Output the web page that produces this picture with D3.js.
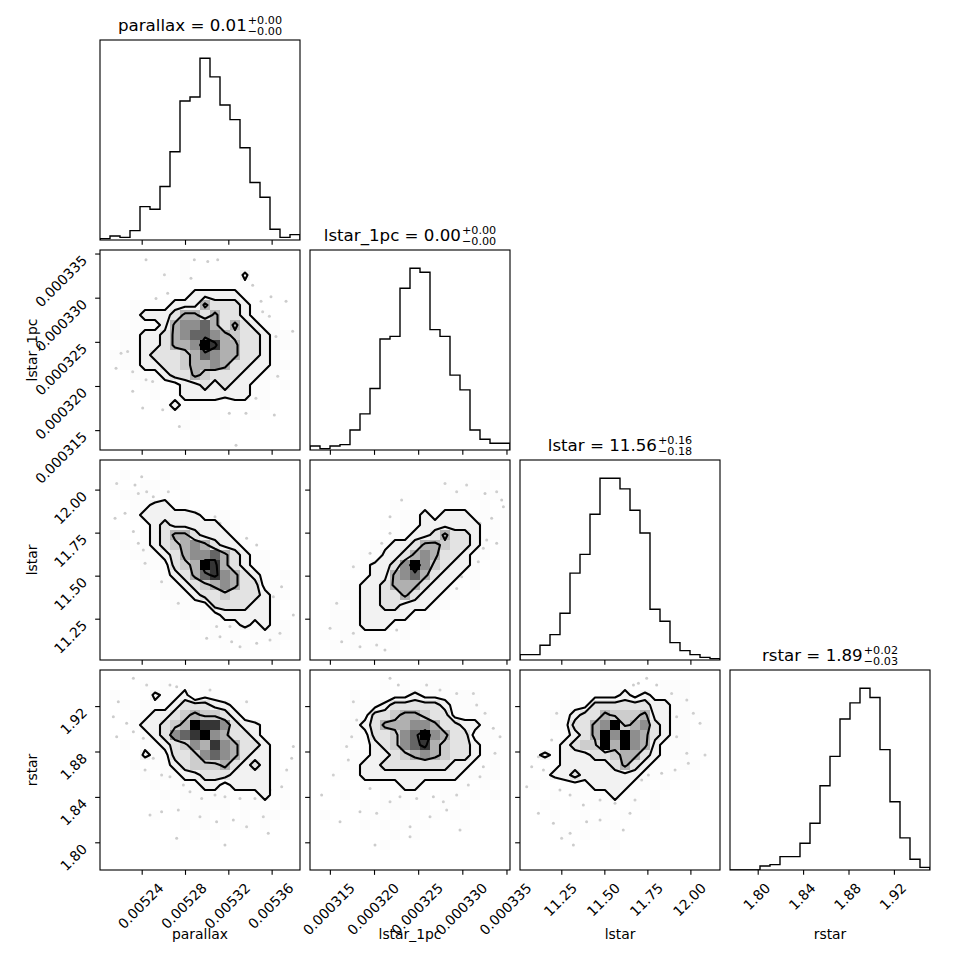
<!DOCTYPE html>
<html>
<head>
<meta charset="utf-8">
<script src="https://cdn.jsdelivr.net/npm/d3@7"></script>
<style>
body { margin: 0; background: #fff; }
svg { display: block; }
text { font-family: "DejaVu Sans", sans-serif; fill: #000; }
</style>
</head>
<body>
<svg id="chart" width="970" height="970"></svg>
<script>
// parameter names, ranges and ticks
const names = ["parallax", "lstar_1pc", "lstar", "rstar"];
const rangeParallax = [0.0052015, 0.0053862];
const rangeLstar1pc = [0.00031275, 0.0003354];
const rangeLstar = [11.010, 12.172];
const rangeRstar = [1.7756, 1.9518];

const ticksParallax = [0.00524, 0.00528, 0.00532, 0.00536];
const ticksLstar1pc = [0.000315, 0.000320, 0.000325, 0.000330, 0.000335];
const ticksLstar = [11.25, 11.50, 11.75, 12.00];
const ticksRstar = [1.80, 1.84, 1.88, 1.92];
const tickLabelsParallax = ["0.00524", "0.00528", "0.00532", "0.00536"];
const tickLabelsLstar1pc = ["0.000315", "0.000320", "0.000325", "0.000330", "0.000335"];
const tickLabelsLstar = ["11.25", "11.50", "11.75", "12.00"];
const tickLabelsRstar = ["1.80", "1.84", "1.88", "1.92"];

// titles: median and errors
const titleValues = ["0.01", "0.00", "11.56", "1.89"];
const titlePlus = ["+0.00", "+0.00", "+0.16", "+0.02"];
const titleMinus = ["\u22120.00", "\u22120.00", "\u22120.18", "\u22120.03"];

// 1d histogram counts (20 bins over each range)
const histParallax = [1, 3, 2, 7, 25, 23, 40, 66, 104, 107, 136, 122, 101, 90, 69, 43, 32, 8, 2, 4];
const histLstar1pc = [3, 1, 3, 4, 15, 27, 46, 83, 85, 121, 136, 133, 90, 85, 56, 45, 15, 8, 5, 5];
const histLstar = [4, 4, 11, 19, 35, 65, 79, 109, 136, 136, 128, 112, 95, 38, 29, 13, 7, 4, 2, 1];
const histRstar = [0, 0, 0, 3, 4, 10, 10, 20, 35, 63, 85, 113, 125, 136, 129, 90, 51, 24, 8, 2];

// 2d histograms, 20x20, top row = highest y value
const gridLstar1pcParallax = [
  "00000000000000000000", "00000000100000000000", "00000010100000200000", "00000000011111100000",
  "00000001122222100000", "00011112225333210000", "00112223553533211000", "01011125667535321100",
  "01112235677654332110", "00112235569855332111", "01112333457655332101", "00112233455653322110",
  "00011123354333221100", "00001111223232211010", "00000101222222211000", "00000012111101101000",
  "00000001010100010000", "00000000100010000000", "00000000010000000000", "00000000000000000000"
];
const gridLstarParallax = [
  "00000000000000000000", "00100010000000000000", "01001101000000000000", "00111010100000000000",
  "00011221100000000000", "00012222221110000000", "00001232222211000000", "01001235532221000000",
  "00101234565322100000", "00011123566753211000", "00001113459853211000", "00001012357865321010",
  "00000111234565331100", "00000011123343332110", "00000001111333322101", "00000000101122222100",
  "00000000010111212110", "00000000000101011110", "00000000000010100101", "00000000000000010000"
];
const gridLstarLstar1pc = [
  "00000000000000000000", "00000000000000000010", "00000000000001010100", "00000000010010101010",
  "00000000100101110100", "00000000011212221101", "00000001011222222110", "00000000112235332110",
  "00000011223554332101", "00000102235653321100", "00001122369643221010", "00000122567532211000",
  "00011223555322101000", "00011223353221100000", "00101223322211000000", "00111222221110000000",
  "00111222110100000000", "01011111010000000000", "00101010100000000000", "00010100000000000000"
];
const gridRstarParallax = [
  "00000000000000000000", "00001010101000000000", "01000211201100000000", "00101112333221100000",
  "00011223454432100000", "00012234598863221000", "00001236789653321000", "00101123465865332100",
  "00002113346765322100", "00010112344453232101", "00001011223332222110", "00000101112212222100",
  "00000010111111112110", "00000001011110111010", "00000100111010101100", "00000000101010101000",
  "00000000010100000000", "00000001000000000000", "00000000000000000000", "00000000000000000000"
];
const gridRstarLstar1pc = [
  "00000000000000000000", "00000001010111000000", "00001010112111111000", "00001112333332111000",
  "00001133455433111100", "00011235556653322101", "00011133467965331110", "00010123467854332101",
  "00001122345654332110", "00011223333333221010", "00101222222222211110", "00000111122111110101",
  "00010001011101101010", "00000101110101010000", "01000010101010100000", "00000101010100010000",
  "00000000101000000000", "00000001000000000000", "00000000000000000000", "00000000000000000000"
];
const gridRstarLstar = [
  "00000000000000000000", "00000000111000111000", "00000101112121111000", "00001113333332211000",
  "00011233544452211100", "00011335694563211010", "00001235969653211000", "00012344959652111000",
  "01212223345532111010", "00012222235321101100", "00122322222211010000", "01001112222110100100",
  "00010111121101000000", "00100101110101000000", "00010010101010000000", "00000101010000000000",
  "00001010100000000000", "00000000010000000000", "00000000000000000000", "00000000000000000000"
];

// contour levels for each 2d panel (grid units)
const levelsLstar1pcParallax = [1.5, 2.5, 4.5, 7.5];
const levelsLstarParallax = [1.5, 2.5, 4.5, 7.5];
const levelsLstarLstar1pc = [1.5, 2.5, 4.5, 7.5];
const levelsRstarParallax = [1.5, 2.5, 4.5, 8.8];
const levelsRstarLstar1pc = [1.5, 2.5, 4.5, 7.5];
const levelsRstarLstar = [1.5, 2.5, 4.5, 8.8];

// samples lying outside the outer contour, [x, y]
const ptsLstar1pcParallax = [
  [0.005244, 0.0003343], [0.005301, 0.0003341], [0.005261, 0.0003326], [0.0052855, 0.0003322],
  [0.0053425, 0.0003314], [0.0053594, 0.0003301], [0.0053733, 0.0003296], [0.0053517, 0.0003284],
  [0.0053579, 0.0003279], [0.0053794, 0.0003262], [0.0052209, 0.0003237], [0.005227, 0.0003239],
  [0.0052163, 0.000322], [0.0052317, 0.0003216], [0.005244, 0.0003207], [0.0052409, 0.0003175],
  [0.0052594, 0.0003173], [0.0052748, 0.0003154], [0.0053271, 0.0003133], [0.0053209, 0.0003169],
  [0.0053455, 0.0003186], [0.0053625, 0.0003167], [0.0053656, 0.0003211], [0.0052886, 0.0003343],
  [0.0053102, 0.0003343], [0.0053502, 0.0003296], [0.005364, 0.0003256], [0.0052501, 0.0003205],
  [0.0052317, 0.0003194], [0.0053363, 0.0003169], [0.005264, 0.0003305], [0.0052532, 0.0003299]
];
const ptsLstarParallax = [
  [0.0052169, 12.036], [0.0052338, 12.027], [0.00524, 12.075], [0.0052446, 11.988], [0.0052646, 11.988],
  [0.0052154, 11.833], [0.0052246, 11.862], [0.0052323, 11.756], [0.0052369, 11.688], [0.0052431, 11.572],
  [0.0052584, 11.465], [0.0052738, 11.339], [0.0053077, 11.843], [0.0053123, 11.804], [0.0053369, 11.717],
  [0.0053462, 11.678], [0.0053692, 11.436], [0.0053616, 11.378], [0.00538, 11.271], [0.0053677, 11.165],
  [0.0053462, 11.107], [0.0053308, 11.087], [0.0053123, 11.145], [0.0053, 11.136], [0.0053215, 11.204],
  [0.0052369, 11.978], [0.0052507, 11.959], [0.0052415, 11.649], [0.0053231, 11.116], [0.0053585, 11.126],
  [0.0053092, 11.204]
];
const ptsLstarLstar1pc = [
  [0.00032804, 12.036], [0.00033049, 12.027], [0.00033257, 11.978], [0.00033446, 11.94], [0.00033332, 11.833],
  [0.00033276, 11.707], [0.00033389, 11.688], [0.00033181, 11.581], [0.00032993, 11.494], [0.00032936, 11.426],
  [0.00032313, 11.94], [0.00032181, 11.843], [0.00032181, 11.746], [0.00031955, 11.63], [0.00031766, 11.552],
  [0.00031577, 11.339], [0.00031502, 11.194], [0.00031766, 11.165], [0.00031634, 11.116], [0.00031841, 11.087],
  [0.0003203, 11.097], [0.00032257, 11.184], [0.00032124, 11.068], [0.00032936, 11.988], [0.00033389, 11.988],
  [0.00033465, 11.901], [0.000332, 11.804], [0.00033238, 11.659], [0.00032087, 11.688]
];
const ptsRstarParallax = [
  [0.0052323, 1.9445], [0.0052661, 1.9386], [0.0053031, 1.9342], [0.0052184, 1.9239], [0.0052138, 1.9107],
  [0.0052261, 1.9048], [0.0052169, 1.8931], [0.0052507, 1.874], [0.0052431, 1.8637], [0.0052661, 1.8578],
  [0.0052846, 1.8446], [0.0053077, 1.8417], [0.0053308, 1.8387], [0.0053585, 1.8461], [0.0053693, 1.849],
  [0.0053739, 1.8637], [0.00538, 1.8843], [0.0053369, 1.9239], [0.0052477, 1.824], [0.0052738, 1.8284],
  [0.0052938, 1.8226], [0.0053092, 1.8182], [0.0053369, 1.8138], [0.0053523, 1.8226], [0.0053569, 1.8079],
  [0.0052723, 1.8035], [0.0053169, 1.7976], [0.0052446, 1.9386], [0.0052723, 1.9371], [0.0052323, 1.8975],
  [0.0052415, 1.8916], [0.0052584, 1.8593], [0.0052785, 1.8505], [0.0052954, 1.8387], [0.0053169, 1.8402],
  [0.0053446, 1.8387], [0.0053785, 1.874], [0.0052584, 1.827], [0.0053246, 1.8196]
];
const ptsRstarLstar1pc = [
  [0.00032181, 1.9445], [0.00032596, 1.9386], [0.00032936, 1.9312], [0.00033125, 1.9312], [0.00031766, 1.9239],
  [0.00031804, 1.9077], [0.00031747, 1.8931], [0.00031709, 1.8725], [0.00031539, 1.8593], [0.00031407, 1.8417],
  [0.00031615, 1.8182], [0.00031841, 1.827], [0.0003203, 1.8255], [0.00032181, 1.8358], [0.00032483, 1.8387],
  [0.00032672, 1.8402], [0.00032936, 1.8417], [0.000332, 1.8578], [0.0003337, 1.8784], [0.00033427, 1.8931],
  [0.00033257, 1.9136], [0.00032408, 1.8138], [0.00032634, 1.8226], [0.00032974, 1.8108], [0.00032011, 1.7976],
  [0.00032408, 1.805], [0.00032275, 1.9386], [0.00032747, 1.9342], [0.0003169, 1.8843], [0.00031955, 1.8475],
  [0.00032294, 1.8402], [0.00032785, 1.8358], [0.00033068, 1.8505], [0.00033238, 1.8666], [0.00033351, 1.9004],
  [0.00033163, 1.921], [0.00032823, 1.8284]
];
const ptsRstarLstar = [
  [11.669, 1.9386], [11.746, 1.9445], [11.891, 1.9312], [11.979, 1.9254], [12.056, 1.9048], [11.92, 1.8931],
  [12.085, 1.8769], [11.988, 1.8696], [11.833, 1.8608], [11.717, 1.8549], [11.223, 1.9136], [11.194, 1.8901],
  [11.078, 1.8666], [11.049, 1.849], [11.242, 1.8461], [11.378, 1.8329], [11.562, 1.8343], [11.678, 1.8373],
  [11.117, 1.8255], [11.204, 1.8167], [11.397, 1.8182], [11.61, 1.8108], [11.32, 1.7976], [11.475, 1.8196],
  [11.698, 1.9401], [11.804, 1.9386], [12.017, 1.9136], [11.92, 1.9107], [11.979, 1.8784], [11.911, 1.8637],
  [11.756, 1.8593], [11.117, 1.8754], [11.146, 1.8637], [11.301, 1.8417], [11.475, 1.8373], [11.649, 1.8255],
  [11.301, 1.8079], [11.252, 1.8035]
];

const vars = [
  {range: rangeParallax, ticks: ticksParallax, labels: tickLabelsParallax, hist: histParallax},
  {range: rangeLstar1pc, ticks: ticksLstar1pc, labels: tickLabelsLstar1pc, hist: histLstar1pc},
  {range: rangeLstar, ticks: ticksLstar, labels: tickLabelsLstar, hist: histLstar},
  {range: rangeRstar, ticks: ticksRstar, labels: tickLabelsRstar, hist: histRstar}
];
const pairs = [
  {row: 1, col: 0, grid: gridLstar1pcParallax, levels: levelsLstar1pcParallax, pts: ptsLstar1pcParallax},
  {row: 2, col: 0, grid: gridLstarParallax, levels: levelsLstarParallax, pts: ptsLstarParallax},
  {row: 2, col: 1, grid: gridLstarLstar1pc, levels: levelsLstarLstar1pc, pts: ptsLstarLstar1pc},
  {row: 3, col: 0, grid: gridRstarParallax, levels: levelsRstarParallax, pts: ptsRstarParallax},
  {row: 3, col: 1, grid: gridRstarLstar1pc, levels: levelsRstarLstar1pc, pts: ptsRstarLstar1pc},
  {row: 3, col: 2, grid: gridRstarLstar, levels: levelsRstarLstar, pts: ptsRstarLstar}
];

const size = 200, gap = 10, padLeft = 100, padTop = 40;
const fontTick = 13.89, fontTitle = 16.67, fontScript = 11.2;
const tickLen = 4.86, spineW = 1.11;

const svg = d3.select("#chart");
svg.append("rect").attr("width", 970).attr("height", 970).attr("fill", "#fff");
const defs = svg.append("defs");

function panelX(i) { return padLeft + i * (size + gap); }
function panelY(j) { return padTop + j * (size + gap); }
function xScale(i) {
  return d3.scaleLinear().domain(vars[i].range).range([panelX(i), panelX(i) + size]);
}
function yScale(j) {
  return d3.scaleLinear().domain(vars[j].range).range([panelY(j) + size, panelY(j)]);
}
function clipFor(i, j) {
  const id = "clip" + i + j;
  defs.append("clipPath").attr("id", id).append("rect")
    .attr("x", panelX(i)).attr("y", panelY(j)).attr("width", size).attr("height", size);
  return "url(#" + id + ")";
}

// 1d histograms on the diagonal
vars.forEach((v, i) => {
  const x = xScale(i);
  const y = d3.scaleLinear().domain([0, 1.1 * d3.max(v.hist)]).range([panelY(i) + size, panelY(i)]);
  const bw = (v.range[1] - v.range[0]) / v.hist.length;
  const steps = [[v.range[0], 0]]
    .concat(v.hist.map((c, k) => [v.range[0] + k * bw, c]))
    .concat([[v.range[1], v.hist[v.hist.length - 1]], [v.range[1], 0]]);
  const line = d3.line().x(d => x(d[0])).y(d => y(d[1])).curve(d3.curveStepAfter);
  svg.append("path")
    .attr("clip-path", clipFor(i, i))
    .attr("d", line(steps))
    .attr("fill", "none")
    .attr("stroke", "#000")
    .attr("stroke-width", 1.39);
});

// 2d panels
pairs.forEach(p => {
  const x = xScale(p.col), y = yScale(p.row);
  const xr = vars[p.col].range, yr = vars[p.row].range;
  const n = p.grid.length;
  const values = p.grid.join("").split("").map(Number);
  const hmax = d3.max(values);
  const bw = (xr[1] - xr[0]) / n, bh = (yr[1] - yr[0]) / n;
  const g = svg.append("g").attr("clip-path", clipFor(p.col, p.row));

  g.selectAll("circle").data(p.pts).join("circle")
    .attr("cx", d => x(d[0])).attr("cy", d => y(d[1]))
    .attr("r", 1.5).attr("fill", "#000").attr("fill-opacity", 0.2);

  const contours = d3.contours().size([n, n]).thresholds(p.levels)(values);
  const proj = d3.geoTransform({
    point: function (gx, gy) {
      this.stream.point(x(xr[0] + gx * bw), y(yr[1] - gy * bh));
    }
  });
  const path = d3.geoPath(proj);

  // white base fill over the outer contour
  g.append("path").attr("d", path(contours[0])).attr("fill", "#fff");

  // density cells: black fading to transparent white
  const cells = values.map((val, k) => ({val, c: k % n, r: Math.floor(k / n)})).filter(d => d.val > 0);
  g.selectAll("rect.cell").data(cells).join("rect")
    .attr("class", "cell")
    .attr("x", d => x(xr[0] + d.c * bw))
    .attr("y", d => y(yr[1] - d.r * bh))
    .attr("width", d => x(xr[0] + (d.c + 1) * bw) - x(xr[0] + d.c * bw))
    .attr("height", d => y(yr[1] - (d.r + 1) * bh) - y(yr[1] - d.r * bh))
    .attr("shape-rendering", "crispEdges")
    .attr("fill", d => { const t = Math.round(255 * (1 - d.val / hmax)); return `rgb(${t},${t},${t})`; })
    .attr("fill-opacity", d => d.val / hmax);

  g.selectAll("path.level").data(contours).join("path")
    .attr("class", "level")
    .attr("d", path)
    .attr("fill", "none")
    .attr("stroke", "#000")
    .attr("stroke-width", 2.08)
    .attr("stroke-linejoin", "round");
});

// ticks, tick labels, spines
function styleAxis(g) {
  g.select(".domain").remove();
  g.selectAll("text").remove();
  g.selectAll("line").attr("stroke", "#000").attr("stroke-width", spineW);
}

for (let j = 0; j < 4; j++) {
  for (let i = 0; i <= j; i++) {
    const x = xScale(i);
    const yb = panelY(j) + size;
    svg.append("g").attr("transform", `translate(0,${yb})`)
      .call(d3.axisBottom(x).tickValues(vars[i].ticks).tickSize(tickLen).tickFormat(() => ""))
      .call(styleAxis);
    if (i < j) {
      const y = yScale(j);
      svg.append("g").attr("transform", `translate(${panelX(i)},0)`)
        .call(d3.axisLeft(y).tickValues(vars[j].ticks).tickSize(tickLen).tickFormat(() => ""))
        .call(styleAxis);
    }
    if (j === 3) {
      vars[i].ticks.forEach((t, k) => {
        const tx = x(t);
        const txt = svg.append("text")
          .attr("font-size", fontTick)
          .attr("text-anchor", "middle")
          .attr("dominant-baseline", "central")
          .text(vars[i].labels[k]);
        const w = txt.node().getComputedTextLength();
        const ty = yb + 9.8 + (w + 16.2) / (2 * Math.SQRT2);
        txt.attr("transform", `translate(${tx - 1},${ty}) rotate(-45)`);
      });
    }
    if (i === 0 && j > 0) {
      const y = yScale(j);
      vars[j].ticks.forEach((t, k) => {
        svg.append("text")
          .attr("font-size", fontTick)
          .attr("text-anchor", "end")
          .attr("dominant-baseline", "central")
          .attr("transform", `translate(84.5,${y(t) + 4.1}) rotate(-45)`)
          .text(vars[j].labels[k]);
      });
    }
    svg.append("rect")
      .attr("x", panelX(i)).attr("y", panelY(j))
      .attr("width", size).attr("height", size)
      .attr("fill", "none").attr("stroke", "#000").attr("stroke-width", spineW);
  }
}

// axis labels
names.forEach((name, i) => {
  svg.append("text")
    .attr("x", panelX(i) + size / 2).attr("y", 938.5)
    .attr("font-size", fontTick).attr("text-anchor", "middle")
    .text(name);
  if (i > 0) {
    svg.append("text")
      .attr("transform", `translate(36.5,${panelY(i) + size / 2}) rotate(-90)`)
      .attr("font-size", fontTick).attr("text-anchor", "middle")
      .text(name);
  }
});

// titles with super/subscript errors
names.forEach((name, i) => {
  const base = panelY(i) - 9.5;
  const g = svg.append("g");
  const main = g.append("text").attr("font-size", fontTitle).attr("y", base)
    .text(name + " = " + titleValues[i]);
  const sup = g.append("text").attr("font-size", fontScript).attr("y", base - 7).text(titlePlus[i]);
  const sub = g.append("text").attr("font-size", fontScript).attr("y", base + 4).text(titleMinus[i]);
  const mw = main.node().getComputedTextLength();
  const sw = Math.max(sup.node().getComputedTextLength(), sub.node().getComputedTextLength());
  const x0 = panelX(i) + size / 2 - (mw + sw + 1) / 2;
  main.attr("x", x0);
  sup.attr("x", x0 + mw + 1);
  sub.attr("x", x0 + mw + 1);
});
</script>
</body>
</html>
